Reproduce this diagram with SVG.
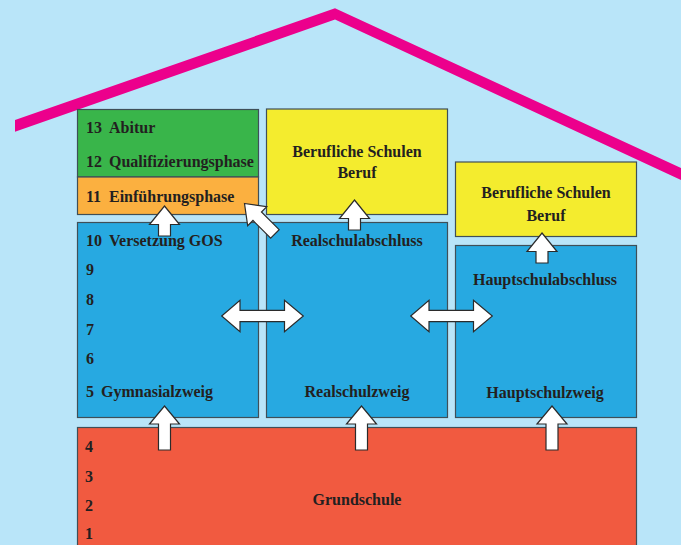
<svg xmlns="http://www.w3.org/2000/svg" width="681" height="545" viewBox="0 0 681 545">
<defs>
<style>
.box{stroke:#3f4f58;stroke-width:1.2}
.blue{fill:#27a9e1}
.t{font-family:"Liberation Serif","Times New Roman",serif;font-weight:bold;font-size:16px;fill:#231f20}
.c{text-anchor:middle}
.arr{fill:#ffffff;stroke:#2b2b2b;stroke-width:1.2;stroke-linejoin:miter}
</style>
<path id="up" d="M0,0 L15,18 L6,18 L6,44 L-6,44 L-6,18 L-15,18 Z"/>
<path id="upshort" d="M0,0 L15,18.5 L6,18.5 L6,30 L-6,30 L-6,18.5 L-15,18.5 Z"/>
<path id="diag" d="M0,0 L13.5,18 L6,18 L6,43 L-6,43 L-6,18 L-13.5,18 Z"/>
</defs>
<rect width="681" height="545" fill="#b9e5f9"/>
<polygon id="roof" points="15,120 335,8.3 681,168 681,180 335,19.5 15,131.7" fill="#ec008c"/>

<g id="oberstufe">
<rect class="box" x="77.5" y="109.5" width="181" height="67.5" fill="#39b54a" stroke="#2d6b36"/>
<text class="t" x="86" y="133">13<tspan x="109">Abitur</tspan></text>
<text class="t" x="86" y="167">12<tspan x="109">Qualifizierungsphase</tspan></text>
</g>
<g id="einfuehrung">
<rect class="box" x="77.5" y="177" width="181" height="37.5" fill="#fbb040"/>
<text class="t" x="86" y="202">11<tspan x="109">Einführungsphase</tspan></text>
</g>
<g id="beruf1">
<rect class="box" x="266.5" y="109" width="181" height="105.5" fill="#f4ec2e"/>
<text class="t c" x="357" y="157">Berufliche Schulen</text>
<text class="t c" x="357" y="178">Beruf</text>
</g>
<g id="beruf2">
<rect class="box" x="455.5" y="162" width="181" height="74.5" fill="#f4ec2e"/>
<text class="t c" x="546" y="198">Berufliche Schulen</text>
<text class="t c" x="546" y="221">Beruf</text>
</g>
<g id="gymnasialzweig">
<rect class="box blue" x="77.5" y="222.5" width="181" height="195"/>
<text class="t" x="86" y="246">10<tspan x="109">Versetzung GOS</tspan></text>
<text class="t" x="86" y="275">9</text>
<text class="t" x="86" y="305">8</text>
<text class="t" x="86" y="335">7</text>
<text class="t" x="86" y="364">6</text>
<text class="t" x="86" y="397">5<tspan x="101">Gymnasialzweig</tspan></text>
</g>
<g id="realschulzweig">
<rect class="box blue" x="266.5" y="222.5" width="181" height="195"/>
<text class="t c" x="357" y="246">Realschulabschluss</text>
<text class="t c" x="357" y="397">Realschulzweig</text>
</g>
<g id="hauptschulzweig">
<rect class="box blue" x="455.5" y="245.5" width="181" height="172"/>
<text class="t c" x="545" y="285">Hauptschulabschluss</text>
<text class="t c" x="545" y="398">Hauptschulzweig</text>
</g>
<g id="grundschule">
<rect class="box" x="77.5" y="427.5" width="559" height="130" fill="#f15a40" stroke="#8a3a2a"/>
<text class="t" x="85" y="452">4</text>
<text class="t" x="85" y="482">3</text>
<text class="t" x="85" y="511">2</text>
<text class="t" x="85" y="539">1</text>
<text class="t c" x="357" y="505">Grundschule</text>
</g>

<g id="connectors">
<use href="#up" class="arr" transform="translate(164.5,406)"/>
<use href="#up" class="arr" transform="translate(361.5,406)"/>
<use href="#up" class="arr" transform="translate(552,406)"/>
<use href="#upshort" class="arr" transform="translate(164.5,206)"/>
<use href="#upshort" class="arr" transform="translate(354.5,200)"/>
<use href="#upshort" class="arr" transform="translate(542,233)"/>
<use href="#diag" class="arr" transform="translate(244.5,203.5) rotate(-45)"/>
<path class="arr" d="M221.7,316 L240,300.3 L240,310.3 L284.5,310.3 L284.5,300.3 L303.3,316 L284.5,331.7 L284.5,321.7 L240,321.7 L240,331.7 Z"/>
<path class="arr" d="M410.7,316 L429,300.3 L429,310.3 L473.5,310.3 L473.5,300.3 L492.3,316 L473.5,331.7 L473.5,321.7 L429,321.7 L429,331.7 Z"/>
</g>
</svg>
